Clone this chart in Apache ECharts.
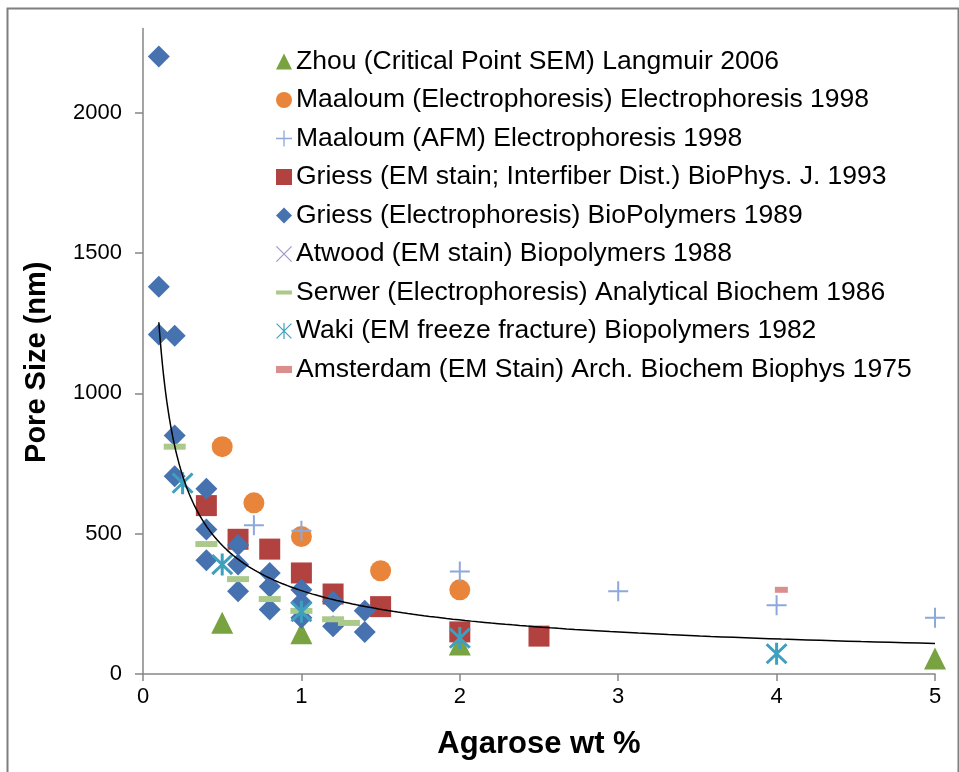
<!DOCTYPE html>
<html>
<head>
<meta charset="utf-8">
<script src="https://cdn.jsdelivr.net/npm/echarts@6/dist/echarts.min.js"></script>
<style>
  html, body { margin: 0; padding: 0; background: #ffffff; }
  #chart { width: 959px; height: 772px; }
</style>
</head>
<body>
<div id="chart"></div>
<script>
// Pore size (nm) versus agarose concentration (wt %), one list per study
const zhou = [[0.5, 183], [1.0, 145], [2.0, 105], [5.0, 55]];
const maaloumElectro = [[0.5, 810], [0.7, 610], [1.0, 490], [1.5, 368], [2.0, 300]];
const maaloumAfm = [[0.7, 530], [1.0, 510], [2.0, 365], [3.0, 295], [4.0, 245], [5.0, 200]];
const griessEm = [[0.4, 600], [0.6, 480], [0.8, 445], [1.0, 360], [1.2, 285], [1.5, 240], [2.0, 150], [2.5, 135]];
const griessElectro = [
  [0.1, 2200], [0.1, 1380], [0.1, 1210], [0.2, 1205], [0.2, 850], [0.2, 705],
  [0.4, 660], [0.4, 515], [0.4, 405], [0.6, 460], [0.6, 390], [0.6, 295],
  [0.8, 360], [0.8, 312], [0.8, 230], [1.0, 300], [1.0, 255], [1.0, 200],
  [1.2, 258], [1.2, 170], [1.4, 225], [1.4, 150]
];
const atwood = [];
const serwer = [[0.2, 810], [0.4, 463], [0.6, 338], [0.8, 267], [1.0, 225], [1.2, 195], [1.3, 182]];
const waki = [[0.25, 680], [0.5, 390], [1.0, 222], [2.0, 128], [4.0, 72]];
const amsterdam = [[4.03, 300]];

const seriesNames = [
  'Zhou (Critical Point SEM) Langmuir 2006',
  'Maaloum (Electrophoresis) Electrophoresis 1998',
  'Maaloum (AFM) Electrophoresis 1998',
  'Griess (EM stain; Interfiber Dist.) BioPhys. J. 1993',
  'Griess (Electrophoresis) BioPolymers 1989',
  'Atwood (EM stain) Biopolymers 1988',
  'Serwer (Electrophoresis) Analytical Biochem 1986',
  'Waki (EM freeze fracture) Biopolymers 1982',
  'Amsterdam (EM Stain) Arch. Biochem Biophys 1975'
];

const xTicks = [0, 1, 2, 3, 4, 5];
const yTicks = [0, 500, 1000, 1500, 2000];

// Marker outlines built from filled strokes
function plusPath(s, t) {
  const c = s / 2 - t / 2;
  return 'path://M' + c + ',0h' + t + 'v' + s + 'h' + (-t) + 'z' +
         'M0,' + c + 'h' + s + 'v' + t + 'h' + (-s) + 'z';
}
function crossBars(s, t) {
  const a = t / 2 / Math.SQRT2;
  const d1 = 'M' + a + ',' + (-a) + 'L' + (s + a) + ',' + (s - a) + 'L' + (s - a) + ',' + (s + a) + 'L' + (-a) + ',' + a + 'Z';
  const d2 = 'M' + (s - a) + ',' + (-a) + 'L' + (s + a) + ',' + a + 'L' + a + ',' + (s + a) + 'L' + (-a) + ',' + (s - a) + 'Z';
  return d1 + d2;
}
function crossPath(s, t) { return 'path://' + crossBars(s, t); }
function starPath(s, t) {
  const c = s / 2 - t / 2;
  return 'path://' + crossBars(s, t) + 'M' + c + ',' + (-t / 2) + 'h' + t + 'v' + (s + t) + 'h' + (-t) + 'z';
}

const colors = {
  zhou: '#79A241',
  maaloumE: '#E8853B',
  maaloumA: '#8DA8DA',
  griessEm: '#B1423F',
  griessEl: '#4672B0',
  atwood: '#A596CA',
  serwer: '#ABC98B',
  waki: '#3FA0BE',
  amsterdam: '#D98F8E'
};

// Power-law trend line y = a * x^b, least squares in log-log space over all points
const allPoints = [].concat(zhou, maaloumElectro, maaloumAfm, griessEm, griessElectro, atwood, serwer, waki, amsterdam);
function powerFit(pts) {
  let n = 0, sx = 0, sy = 0, sxx = 0, sxy = 0;
  pts.forEach(function (p) {
    const lx = Math.log(p[0]), ly = Math.log(p[1]);
    n++; sx += lx; sy += ly; sxx += lx * lx; sxy += lx * ly;
  });
  const b = (n * sxy - sx * sy) / (n * sxx - sx * sx);
  const a = Math.exp((sy - b * sx) / n);
  return { a: a, b: b };
}
const fit = powerFit(allPoints);
const xs = allPoints.map(function (p) { return p[0]; });
const xLo = Math.min.apply(null, xs), xHi = Math.max.apply(null, xs);
const trend = [];
for (let i = 0; i <= 200; i++) {
  const x = xLo * Math.pow(xHi / xLo, i / 200);
  trend.push([x, fit.a * Math.pow(x, fit.b)]);
}

const chart = echarts.init(document.getElementById('chart'), null, { renderer: 'canvas' });

const axisGray = '#868686';
const font = 'Liberation Sans, Arial, sans-serif';

function scatter(name, data, symbol, size, color) {
  return {
    name: name, type: 'scatter', data: data,
    symbol: symbol, symbolSize: size,
    itemStyle: { color: color, opacity: 1 },
    emphasis: { disabled: true },
    animation: false
  };
}

chart.setOption({
  backgroundColor: '#ffffff',
  animation: false,
  graphic: [{
    type: 'rect', left: 5, top: 6, silent: true,
    shape: { width: 951, height: 800 },
    style: { fill: 'none', stroke: '#7f7f7f', lineWidth: 2 }
  }],
  grid: { left: 143, right: 24, top: 28.5, bottom: 98, containLabel: false },
  legend: {
    orient: 'vertical', left: 271, top: 43,
    itemWidth: 16, itemHeight: 16, itemGap: 11.5,
    textStyle: { fontFamily: font, fontSize: 26.5, color: '#000000', padding: [0, 0, 0, -1] },
    selectedMode: false,
    data: [
      { name: seriesNames[0], icon: 'triangle' },
      { name: seriesNames[1], icon: 'circle' },
      { name: seriesNames[2], icon: plusPath(16, 1.3) },
      { name: seriesNames[3], icon: 'rect' },
      { name: seriesNames[4], icon: 'diamond' },
      { name: seriesNames[5], icon: crossPath(16, 1.3) },
      { name: seriesNames[6], icon: 'path://M0,0h16v4h-16z' },
      { name: seriesNames[7], icon: starPath(16, 1.3) },
      { name: seriesNames[8], icon: 'path://M0,0h9v4h-9z' }
    ]
  },
  xAxis: {
    type: 'value', min: 0, max: 5, interval: 1,
    name: 'Agarose wt %', nameLocation: 'middle', nameGap: 55,
    nameTextStyle: { fontFamily: font, fontSize: 31, fontWeight: 'bold', color: '#000000' },
    axisLine: { show: true, lineStyle: { color: axisGray, width: 1.5 } },
    axisTick: { show: true, length: 7, lineStyle: { color: axisGray, width: 1.5 }, customValues: xTicks },
    axisLabel: { fontFamily: font, fontSize: 22, color: '#000000', margin: 12, customValues: xTicks },
    splitLine: { show: false }
  },
  yAxis: {
    type: 'value', min: 0, max: 2300,
    name: 'Pore Size (nm)', nameLocation: 'middle', nameGap: 92, nameRotate: 90,
    nameTextStyle: { fontFamily: font, fontSize: 29, fontWeight: 'bold', color: '#000000', padding: [0, 22, 0, 0] },
    axisLine: { show: true, lineStyle: { color: axisGray, width: 1.5 } },
    axisTick: { show: true, length: 8, lineStyle: { color: axisGray, width: 1.5 }, customValues: yTicks },
    axisLabel: {
      fontFamily: font, fontSize: 22, color: '#000000', margin: 21, customValues: yTicks,
      formatter: function (v) { return String(v); }
    },
    splitLine: { show: false }
  },
  series: [
    scatter(seriesNames[0], zhou, 'triangle', 22, colors.zhou),
    scatter(seriesNames[1], maaloumElectro, 'circle', 21, colors.maaloumE),
    scatter(seriesNames[2], maaloumAfm, plusPath(20, 2), 20, colors.maaloumA),
    scatter(seriesNames[3], griessEm, 'rect', 21, colors.griessEm),
    scatter(seriesNames[4], griessElectro, 'diamond', 22, colors.griessEl),
    scatter(seriesNames[5], atwood, crossPath(16, 2), 16, colors.atwood),
    scatter(seriesNames[6], serwer, 'rect', [22, 6], colors.serwer),
    scatter(seriesNames[7], waki, starPath(20, 3), 22, colors.waki),
    scatter(seriesNames[8], amsterdam, 'rect', [13, 6], colors.amsterdam),
    {
      name: 'Power trend', type: 'line', data: trend,
      showSymbol: false, symbol: 'none', smooth: false, z: 10, silent: true,
      lineStyle: { color: '#000000', width: 1.5 },
      emphasis: { disabled: true },
      animation: false
    }
  ]
});
</script>
</body>
</html>
